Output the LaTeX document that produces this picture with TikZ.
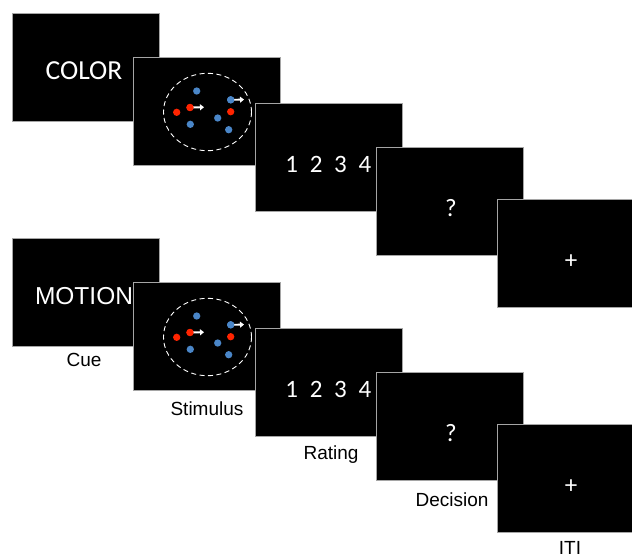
\documentclass[tikz,border=0pt]{standalone}
\usepackage{fontspec}
\setmainfont{Liberation Sans}
\newfontfamily\screenfont{Carlito}
\usetikzlibrary{arrows.meta}

\definecolor{dotred}{RGB}{255,36,0}
\definecolor{dotblue}{RGB}{74,134,200}
\definecolor{screenframe}{RGB}{165,165,165}

\tikzset{
  screen/.style={draw=screenframe, line width=0.9pt, fill=black, anchor=north west,
    minimum width=147pt, minimum height=108pt, inner sep=0pt, outer sep=0pt},
  screentext/.style={text=white, inner sep=0pt, font=\screenfont\fontsize{25}{28}\selectfont},
  cuecolor/.style={text=white, inner sep=0pt, font=\screenfont\fontsize{27.5}{30}\selectfont},
  cuemotion/.style={text=white, inner sep=0pt, font=\fontsize{24.5}{28}\selectfont},
  caption/.style={text=black, inner sep=0pt, font=\fontsize{19}{22}\selectfont},
  dot/.style={circle, inner sep=0pt, minimum size=7.3pt},
  reddot/.style={dot, fill=dotred},
  bluedot/.style={dot, fill=dotblue},
  motionarrow/.style={white, line width=1.9pt, -{Triangle[length=4pt,width=6pt]}},
  aperture/.style={draw=white, line width=0.9pt, dash pattern=on 5pt off 3.5pt}
}

% One trial sequence: cue, dot stimulus, rating scale, decision prompt, fixation
\newcommand\trialrow[3]{%
  \begin{scope}[yshift=#1]
    \node[screen] (cue#2) at (12,13) {};
    \node[#3] (cuetext#2) at (84,71) {\ifnum#2=1 COLOR\else MOTION\fi};
    \node[screen] (stim#2) at (133,57) {};
    \begin{scope}[shift={(stim#2.north west)}]
      \draw[aperture] (74.5,55) ellipse [x radius=44, y radius=38.7];
      \node[bluedot] (b1#2) at (63.7,34) {};
      \node[reddot]  (r1#2) at (43.7,55.3) {};
      \node[reddot]  (r2#2) at (57,50.5) {};
      \node[bluedot] (b2#2) at (57.3,67.3) {};
      \node[bluedot] (b3#2) at (97.7,42.8) {};
      \node[reddot]  (r3#2) at (97.7,54.7) {};
      \node[bluedot] (b4#2) at (84.7,61) {};
      \node[bluedot] (b5#2) at (95.7,72.7) {};
      \coordinate (r2end#2) at (71,50.2);
      \coordinate (b3end#2) at (111,42.6);
      \draw[motionarrow] (r2#2.center) -- (r2end#2);
      \draw[motionarrow] (b3#2.center) -- (b3end#2);
      % redraw dots over the arrow tails
      \node[reddot] at (r2#2) {};
      \node[bluedot] at (b3#2) {};
    \end{scope}
    \node[screen] (rate#2) at (255,103) {};
    \node[screentext] (scale#2) at (328.3,164) {1\hspace{11.7pt}2\hspace{11.7pt}3\hspace{11.7pt}4};
    \node[screen] (dec#2) at (376,147) {};
    \node[screentext] (query#2) at (451,208.5) {?};
    \node[screen] (iti#2) at (497,199) {};
    \node[screentext] (fix#2) at (571,262) {+};
  \end{scope}%
}

\begin{document}
\begin{tikzpicture}[x=1pt,y=-1pt]
  \useasboundingbox (0,0) rectangle (632,558);
  \clip (0,0) rectangle (632,558);
  \fill[white] (0,0) rectangle (632,558);

  \trialrow{0pt}{1}{cuecolor}
  \trialrow{-225pt}{2}{cuemotion}

  \node[caption] (lcue)  at (84,360)  {Cue};
  \node[caption] (lstim) at (207,409) {Stimulus};
  \node[caption] (lrate) at (331,455) {Rating};
  \node[caption] (ldec)  at (452,500) {Decision};
  \node[caption] (liti)  at (570,547.5) {ITI};
\end{tikzpicture}
\end{document}
